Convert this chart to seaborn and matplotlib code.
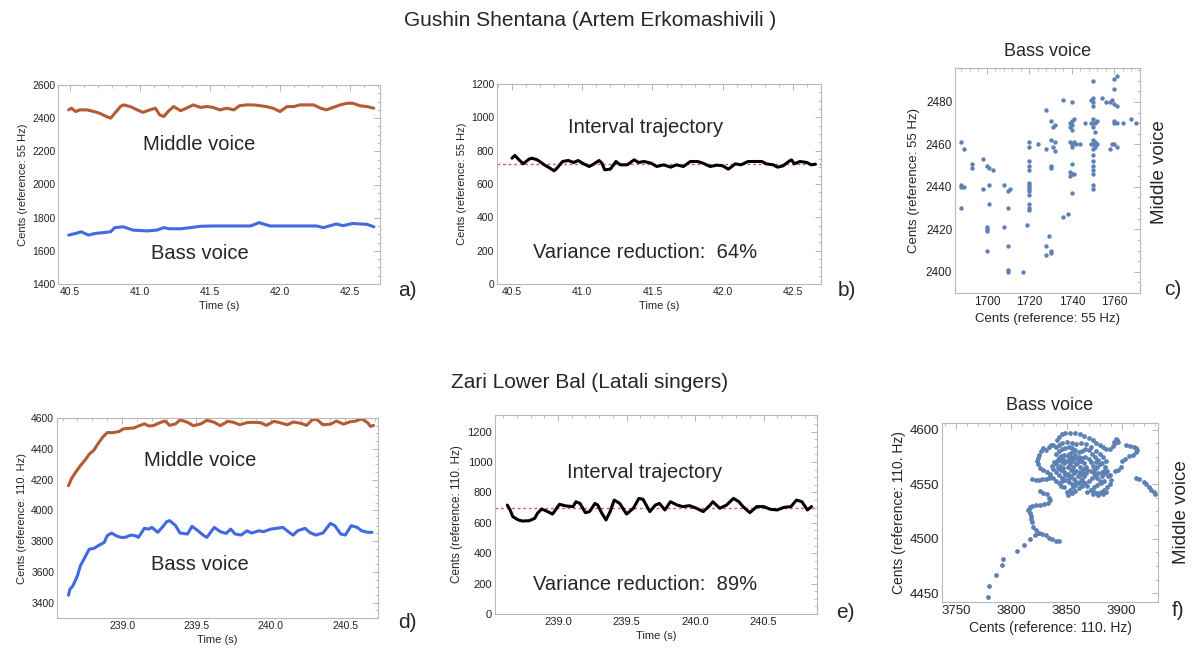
import matplotlib
matplotlib.use("Agg")
import matplotlib.pyplot as plt
import seaborn as sns
from matplotlib.ticker import AutoMinorLocator, FormatStrFormatter, MultipleLocator

# ---- panel a: Gushin Shentana, voices over time ----
time_a_mid = [40.49, 40.51, 40.54, 40.57, 40.62, 40.67, 40.71, 40.76, 40.79, 40.82,
              40.86, 40.88, 40.93, 40.98, 41.02, 41.07, 41.11, 41.14, 41.17, 41.20,
              41.24, 41.29, 41.33, 41.38, 41.43, 41.48, 41.52, 41.57, 41.62, 41.67,
              41.71, 41.76, 41.81, 41.86, 41.90, 41.95, 42.00, 42.05, 42.10, 42.14,
              42.19, 42.24, 42.29, 42.33, 42.38, 42.43, 42.48, 42.52, 42.57, 42.62, 42.67]
middle_a = [2450, 2460, 2440, 2450, 2450, 2440, 2430, 2410, 2400, 2430,
            2470, 2480, 2470, 2450, 2435, 2450, 2460, 2420, 2410, 2440,
            2470, 2445, 2460, 2480, 2465, 2470, 2465, 2450, 2460, 2450,
            2475, 2480, 2480, 2475, 2470, 2460, 2440, 2470, 2470, 2480,
            2480, 2480, 2460, 2450, 2465, 2480, 2490, 2490, 2475, 2470, 2460]
time_a_bass = [40.49, 40.54, 40.58, 40.63, 40.68, 40.74, 40.79, 40.82, 40.88, 40.95,
               41.05, 41.12, 41.17, 41.21, 41.29, 41.36, 41.43, 41.52, 41.67, 41.79,
               41.85, 41.88, 41.93, 42.02, 42.14, 42.26, 42.31, 42.36, 42.40, 42.45,
               42.52, 42.57, 42.62, 42.67]
bass_a = [1695, 1705, 1715, 1695, 1705, 1710, 1715, 1740, 1745, 1725,
          1720, 1725, 1740, 1733, 1733, 1740, 1748, 1750, 1750, 1750,
          1770, 1762, 1750, 1750, 1750, 1750, 1740, 1752, 1762, 1752,
          1765, 1762, 1760, 1745]

# ---- panel b: interval trajectory ----
time_b = [40.50, 40.52, 40.55, 40.58, 40.62, 40.64, 40.68, 40.73, 40.77, 40.80,
          40.82, 40.86, 40.90, 40.94, 40.97, 41.01, 41.05, 41.08, 41.12, 41.14,
          41.16, 41.20, 41.24, 41.27, 41.32, 41.37, 41.40, 41.44, 41.49, 41.53,
          41.58, 41.63, 41.67, 41.72, 41.77, 41.82, 41.86, 41.91, 41.96, 42.00,
          42.04, 42.09, 42.13, 42.18, 42.23, 42.28, 42.31, 42.36, 42.39, 42.43,
          42.47, 42.49, 42.51, 42.55, 42.60, 42.63, 42.66]
interval_b = [755, 771, 745, 721, 749, 755, 745, 715, 695, 679,
              695, 735, 741, 729, 741, 721, 705, 719, 741, 725,
              685, 689, 735, 715, 715, 745, 729, 735, 725, 705,
              715, 701, 715, 705, 735, 735, 725, 705, 713, 709,
              689, 721, 715, 735, 735, 735, 721, 715, 701, 709,
              735, 745, 721, 735, 729, 715, 719]
mean_b = 720

# ---- panel c: bass vs middle scatter ----
bass_c = [1688, 1688, 1688, 1688, 1689, 1689, 1693, 1693, 1698, 1698,
          1700, 1700, 1700, 1700, 1700, 1701, 1701, 1701, 1703, 1708,
          1708, 1710, 1710, 1710, 1710, 1710, 1711, 1717, 1719,
          1720, 1720, 1720, 1720, 1720, 1720, 1720, 1720, 1720, 1720, 1720, 1720, 1720, 1720,
          1724, 1728, 1728, 1728, 1728, 1729,
          1730, 1730, 1730, 1730, 1730, 1730, 1731, 1731, 1732, 1732, 1732,
          1736, 1736, 1738, 1739, 1739, 1739, 1739, 1739,
          1740, 1740, 1740, 1740, 1740, 1740, 1740, 1740, 1740,
          1741, 1741, 1741, 1742, 1744, 1746, 1749, 1749, 1749,
          1750, 1750, 1750, 1750, 1750, 1750, 1750, 1750, 1750, 1750, 1750, 1750, 1750, 1750, 1750, 1750, 1750,
          1751, 1751, 1751, 1751, 1752, 1752, 1754, 1756, 1758, 1758, 1759, 1759,
          1760, 1760, 1760, 1760, 1760, 1760, 1761, 1761, 1761, 1761, 1764, 1768, 1770]
middle_c = [2461, 2440, 2441, 2430, 2458, 2440, 2451, 2449, 2453, 2439,
            2450, 2420, 2421, 2419, 2410, 2449, 2441, 2432, 2448, 2441,
            2421, 2438, 2430, 2412, 2401, 2400, 2439, 2400, 2422,
            2461, 2459, 2452, 2450, 2448, 2442, 2441, 2440, 2439, 2438, 2436, 2432, 2430, 2429,
            2460, 2476, 2458, 2412, 2408, 2417,
            2471, 2462, 2450, 2449, 2410, 2409, 2468, 2459, 2469, 2461, 2457,
            2481, 2426, 2427, 2470, 2468, 2461, 2447, 2445,
            2480, 2471, 2469, 2467, 2460, 2459, 2451, 2437, 2446,
            2472, 2461, 2446, 2460, 2460, 2470, 2481, 2470, 2460,
            2490, 2482, 2480, 2478, 2472, 2470, 2468, 2462, 2460, 2458, 2455, 2452, 2450, 2448, 2446, 2441, 2439,
            2470, 2466, 2461, 2459, 2460, 2471, 2482, 2480, 2480, 2458, 2481, 2460,
            2491, 2486, 2479, 2471, 2470, 2460, 2492, 2478, 2470, 2459, 2470, 2472, 2470]

# ---- panel d: Zari Lower Bal, voices over time ----
time_d_mid = [238.64, 238.66, 238.69, 238.72, 238.75, 238.78, 238.81, 238.84, 238.87, 238.90,
              238.94, 238.98, 239.01, 239.04, 239.08, 239.11, 239.15, 239.18, 239.21, 239.26,
              239.29, 239.32, 239.36, 239.39, 239.44, 239.48, 239.53, 239.57, 239.62, 239.66,
              239.71, 239.75, 239.79, 239.84, 239.88, 239.93, 239.97, 240.02, 240.06, 240.11,
              240.15, 240.20, 240.24, 240.28, 240.31, 240.35, 240.40, 240.44, 240.49, 240.53,
              240.57, 240.61, 240.65, 240.67, 240.69]
middle_d = [4160, 4205, 4250, 4290, 4325, 4365, 4390, 4435, 4475, 4505,
            4505, 4512, 4530, 4532, 4535, 4548, 4562, 4548, 4550, 4572,
            4580, 4552, 4562, 4588, 4572, 4550, 4562, 4585, 4572, 4550,
            4578, 4572, 4556, 4570, 4572, 4570, 4552, 4578, 4570, 4556,
            4574, 4566, 4552, 4590, 4590, 4556, 4560, 4580, 4560, 4575,
            4580, 4595, 4570, 4545, 4552]
time_d_bass = [238.64, 238.65, 238.67, 238.70, 238.72, 238.75, 238.78, 238.81, 238.84, 238.88,
               238.90, 238.93, 238.96, 238.99, 239.02, 239.06, 239.09, 239.11, 239.15, 239.18,
               239.20, 239.24, 239.27, 239.30, 239.32, 239.36, 239.39, 239.44, 239.47, 239.51,
               239.55, 239.57, 239.62, 239.66, 239.70, 239.73, 239.76, 239.80, 239.84, 239.87,
               239.92, 239.95, 240.00, 240.04, 240.08, 240.13, 240.15, 240.18, 240.23, 240.26,
               240.30, 240.35, 240.40, 240.43, 240.47, 240.50, 240.54, 240.58, 240.61, 240.65, 240.68]
bass_d = [3448, 3487, 3509, 3574, 3639, 3694, 3748, 3752, 3770, 3791,
          3835, 3852, 3835, 3824, 3824, 3839, 3835, 3824, 3883, 3878,
          3889, 3857, 3889, 3926, 3933, 3900, 3852, 3846, 3896, 3867,
          3835, 3824, 3889, 3861, 3850, 3878, 3846, 3839, 3867, 3852,
          3867, 3861, 3878, 3883, 3889, 3852, 3839, 3867, 3883, 3857,
          3839, 3852, 3915, 3900, 3846, 3839, 3900, 3889, 3867, 3857, 3857]

# ---- panel e: interval trajectory ----
time_e = [238.63, 238.65, 238.67, 238.71, 238.74, 238.79, 238.83, 238.85, 238.88, 238.91,
          238.96, 238.99, 239.01, 239.06, 239.11, 239.13, 239.16, 239.20, 239.23, 239.27,
          239.29, 239.32, 239.35, 239.38, 239.41, 239.45, 239.50, 239.55, 239.59, 239.62,
          239.67, 239.71, 239.74, 239.78, 239.82, 239.87, 239.91, 239.96, 240.01, 240.06,
          240.11, 240.13, 240.18, 240.23, 240.28, 240.32, 240.35, 240.40, 240.45, 240.50,
          240.55, 240.60, 240.65, 240.70, 240.74, 240.78, 240.82, 240.85]
interval_e = [717, 685, 641, 619, 612, 614, 630, 663, 691, 680,
              658, 696, 722, 711, 707, 739, 728, 667, 674, 728,
              717, 663, 619, 674, 750, 728, 658, 696, 761, 755,
              674, 717, 728, 685, 739, 717, 707, 713, 696, 674,
              717, 739, 696, 717, 761, 739, 707, 667, 707, 707,
              689, 685, 702, 707, 750, 739, 685, 707]
mean_e = 700

# ---- panel f: bass vs middle scatter ----
bass_f = [3838, 3841, 3843, 3846, 3849, 3853, 3858, 3862, 3866, 3870, 3874, 3877, 3880, 3883, 3886, 3889,
          3892, 3894, 3895, 3896, 3897, 3895, 3893,
          3904, 3908, 3911, 3913, 3914, 3913, 3910, 3907, 3903, 3900, 3899, 3897, 3894,
          3913, 3916, 3920, 3922, 3925, 3927, 3929, 3930,
          3829, 3827, 3825, 3824, 3823, 3824, 3826, 3829, 3832, 3835, 3831, 3834, 3836,
          3819, 3822, 3825, 3828, 3831, 3834,
          3826, 3829, 3832, 3834, 3835, 3833, 3830, 3826, 3822, 3819, 3817, 3816, 3815, 3817, 3818, 3818,
          3819, 3820, 3822, 3824,
          3779, 3780, 3786, 3791, 3792, 3805, 3811, 3817, 3821, 3825, 3828, 3831, 3834, 3837, 3840, 3843,
          3840, 3843, 3846, 3849, 3852, 3855, 3858, 3861, 3864, 3867, 3870, 3873, 3876, 3879, 3882, 3885,
          3887, 3889, 3890, 3889, 3887, 3884, 3881, 3878, 3875, 3872, 3869, 3866, 3863, 3860, 3857, 3854,
          3851, 3848, 3845, 3842, 3839, 3837, 3838, 3840, 3843, 3846, 3849, 3852, 3855, 3858, 3861, 3864,
          3866, 3868, 3869, 3868, 3866, 3863, 3860, 3857, 3854, 3851, 3848, 3845, 3843, 3841, 3840, 3842,
          3845, 3848, 3851, 3854, 3857, 3859, 3856, 3853, 3850, 3851, 3855, 3858, 3861, 3864, 3867, 3870,
          3873, 3876, 3879, 3882, 3885, 3888, 3884, 3881, 3878, 3875, 3872, 3869, 3874, 3879, 3883, 3886,
          3856, 3859, 3862, 3865, 3862, 3859, 3856, 3853, 3850, 3847, 3852, 3855, 3858, 3861, 3864, 3867,
          3870, 3872, 3874, 3876, 3878, 3880, 3877, 3853, 3856, 3860, 3847, 3844, 3849, 3852, 3846, 3843,
          3840, 3838, 3835, 3845, 3848, 3862, 3865, 3872, 3875, 3878, 3880, 3882, 3884, 3886, 3883, 3880,
          3877, 3872, 3868, 3863, 3859, 3855, 3850, 3846, 3843, 3840]
middle_f = [4586, 4590, 4593, 4596, 4597, 4597, 4597, 4596, 4594, 4592, 4590, 4588, 4586, 4584, 4582, 4582,
            4585, 4588, 4590, 4590, 4589, 4591, 4589,
            4586, 4585, 4584, 4583, 4581, 4579, 4577, 4576, 4573, 4571, 4566, 4563, 4562,
            4556, 4555, 4552, 4550, 4547, 4545, 4543, 4541,
            4583, 4580, 4577, 4574, 4571, 4568, 4565, 4563, 4561, 4559, 4581, 4584, 4586,
            4555, 4554, 4554, 4555, 4555, 4556,
            4544, 4542, 4541, 4537, 4535, 4533, 4532, 4531, 4531, 4530, 4529, 4527, 4526, 4524, 4521, 4518,
            4515, 4511, 4508, 4505,
            4447, 4457, 4467, 4476, 4481, 4489, 4494, 4500, 4503, 4505, 4504, 4503, 4501, 4500, 4498, 4498,
            4578, 4580, 4582, 4583, 4584, 4583, 4581, 4579, 4580, 4582, 4581, 4578, 4575, 4572, 4569, 4566,
            4562, 4558, 4554, 4550, 4547, 4545, 4543, 4542, 4543, 4545, 4548, 4551, 4554, 4557, 4560, 4563,
            4566, 4569, 4571, 4572, 4570, 4567, 4564, 4561, 4558, 4556, 4554, 4552, 4550, 4549, 4551, 4554,
            4557, 4560, 4563, 4566, 4569, 4571, 4573, 4574, 4575, 4576, 4577, 4576, 4574, 4571, 4568, 4565,
            4563, 4561, 4559, 4557, 4555, 4552, 4547, 4545, 4543, 4540, 4542, 4544, 4546, 4548, 4551, 4553,
            4556, 4558, 4560, 4561, 4560, 4557, 4553, 4551, 4549, 4547, 4545, 4543, 4541, 4540, 4541, 4543,
            4566, 4568, 4566, 4564, 4561, 4562, 4562, 4568, 4571, 4573, 4578, 4579, 4577, 4575, 4574, 4575,
            4573, 4570, 4567, 4564, 4566, 4568, 4570, 4572, 4571, 4570, 4565, 4567, 4558, 4556, 4553, 4551,
            4553, 4556, 4557, 4548, 4547, 4558, 4560, 4562, 4560, 4556, 4553, 4557, 4562, 4571, 4575, 4578,
            4580, 4584, 4587, 4588, 4587, 4588, 4589, 4588, 4586, 4584]

W, H = 1194, 651
MID_COLOR = "#b45a34"
BASS_COLOR = "#4169e1"
DOT_COLOR = "#5e81b5"

sns.set_style("white")
plt.rcParams["font.family"] = ["Liberation Sans", "DejaVu Sans"]

fig = plt.figure(figsize=(W / 100, H / 100), dpi=100)


def add_ax(x0, y0, x1, y1):
    return fig.add_axes([x0 / W, 1 - y1 / H, (x1 - x0) / W, (y1 - y0) / H])


def style(ax, tick_size):
    for s in ax.spines.values():
        s.set_color("#b8b8b8")
        s.set_linewidth(0.8)
    ax.tick_params(which="both", direction="in", top=True, right=True,
                   color="#a8a8a8", labelsize=tick_size, labelcolor="#222222", pad=2)
    ax.tick_params(which="major", length=4, width=0.6)
    ax.tick_params(which="minor", length=2, width=0.5)
    ax.xaxis.set_minor_locator(AutoMinorLocator(5))
    ax.yaxis.set_minor_locator(AutoMinorLocator(4))


# a)
ax = add_ax(58, 85, 380, 284)
sns.lineplot(x=time_a_mid, y=middle_a, ax=ax, color=MID_COLOR, linewidth=2.2, estimator=None, sort=False)
sns.lineplot(x=time_a_bass, y=bass_a, ax=ax, color=BASS_COLOR, linewidth=2.2, estimator=None, sort=False)
ax.set_xlim(40.414, 42.714)
ax.set_ylim(1400, 2600)
ax.xaxis.set_major_locator(MultipleLocator(0.5))
ax.xaxis.set_major_formatter(FormatStrFormatter("%.1f"))
ax.yaxis.set_major_locator(MultipleLocator(200))
style(ax, 7.5)
ax.set_xlabel("Time (s)", fontsize=8, labelpad=3)
ax.set_ylabel("Cents (reference: 55 Hz)", fontsize=8, labelpad=3)
ax.text(0.44, 0.70, "Middle voice", transform=ax.transAxes, ha="center", va="center", fontsize=14.5)
ax.text(0.44, 0.155, "Bass voice", transform=ax.transAxes, ha="center", va="center", fontsize=14.5)

# b)
ax = add_ax(497, 84, 821, 284)
ax.axhline(mean_b, color="#e05a5a", linewidth=1.0, linestyle=(0, (2, 2)))
sns.lineplot(x=time_b, y=interval_b, ax=ax, color="black", linewidth=2.2, estimator=None, sort=False)
ax.set_xlim(40.393, 42.70)
ax.set_ylim(0, 1200)
ax.xaxis.set_major_locator(MultipleLocator(0.5))
ax.xaxis.set_major_formatter(FormatStrFormatter("%.1f"))
ax.yaxis.set_major_locator(MultipleLocator(200))
style(ax, 7.5)
ax.set_xlabel("Time (s)", fontsize=8, labelpad=3)
ax.set_ylabel("Cents (reference: 55 Hz)", fontsize=8, labelpad=3)
ax.text(0.457, 0.78, "Interval trajectory", transform=ax.transAxes, ha="center", va="center", fontsize=14.5)
ax.text(0.457, 0.155, "Variance reduction:  64%", transform=ax.transAxes, ha="center", va="center", fontsize=14.5)

# c)
ax = add_ax(955, 68, 1140, 293)
sns.scatterplot(x=bass_c, y=middle_c, ax=ax, color=DOT_COLOR, s=10, linewidth=0)
ax.set_xlim(1685, 1772)
ax.set_ylim(2390, 2496)
ax.xaxis.set_major_locator(MultipleLocator(20))
ax.yaxis.set_major_locator(MultipleLocator(20))
style(ax, 8.5)
ax.set_xlabel("Cents (reference: 55 Hz)", fontsize=9.5, labelpad=4)
ax.set_ylabel("Cents (reference: 55 Hz)", fontsize=9.5, labelpad=4)
ax.set_title("Bass voice", fontsize=13, pad=9)

# d)
ax = add_ax(57, 418, 378, 618)
sns.lineplot(x=time_d_mid, y=middle_d, ax=ax, color=MID_COLOR, linewidth=2.2, estimator=None, sort=False)
sns.lineplot(x=time_d_bass, y=bass_d, ax=ax, color=BASS_COLOR, linewidth=2.2, estimator=None, sort=False)
ax.set_xlim(238.563, 240.72)
ax.set_ylim(3300, 4600)
ax.xaxis.set_major_locator(MultipleLocator(0.5))
ax.xaxis.set_major_formatter(FormatStrFormatter("%.1f"))
ax.yaxis.set_major_locator(MultipleLocator(200))
style(ax, 7.5)
ax.set_xlabel("Time (s)", fontsize=8, labelpad=3)
ax.set_ylabel("Cents (reference: 110. Hz)", fontsize=8, labelpad=3)
ax.text(0.445, 0.79, "Middle voice", transform=ax.transAxes, ha="center", va="center", fontsize=14.5)
ax.text(0.445, 0.265, "Bass voice", transform=ax.transAxes, ha="center", va="center", fontsize=14.5)

# e)
ax = add_ax(495, 415, 817, 614)
ax.axhline(mean_e, color="#e05a5a", linewidth=1.0, linestyle=(0, (2, 2)))
sns.lineplot(x=time_e, y=interval_e, ax=ax, color="black", linewidth=2.2, estimator=None, sort=False)
ax.set_xlim(238.54, 240.89)
ax.set_ylim(0, 1310)
ax.xaxis.set_major_locator(MultipleLocator(0.5))
ax.xaxis.set_major_formatter(FormatStrFormatter("%.1f"))
ax.yaxis.set_major_locator(MultipleLocator(200))
style(ax, 8)
ax.set_xlabel("Time (s)", fontsize=8, labelpad=3)
ax.set_ylabel("Cents (reference: 110. Hz)", fontsize=8.5, labelpad=3)
ax.text(0.466, 0.71, "Interval trajectory", transform=ax.transAxes, ha="center", va="center", fontsize=14.5)
ax.text(0.466, 0.146, "Variance reduction:  89%", transform=ax.transAxes, ha="center", va="center", fontsize=14.5)

# f)
ax = add_ax(942, 423, 1158, 602)
sns.scatterplot(x=bass_f, y=middle_f, ax=ax, color=DOT_COLOR, s=12, linewidth=0)
ax.set_xlim(3737, 3933)
ax.set_ylim(4442, 4606)
ax.xaxis.set_major_locator(MultipleLocator(50))
ax.yaxis.set_major_locator(MultipleLocator(50))
style(ax, 9.5)
ax.set_xlabel("Cents (reference: 110. Hz)", fontsize=10, labelpad=3)
ax.set_ylabel("Cents (reference: 110. Hz)", fontsize=10, labelpad=3)
ax.set_title("Bass voice", fontsize=13, pad=9)

# titles, side labels, panel letters
fig.text(590 / W, 1 - 20 / H, "Gushin Shentana (Artem Erkomashivili )", ha="center", va="center", fontsize=15)
fig.text(590 / W, 1 - 383 / H, "Zari Lower Bal (Latali singers)", ha="center", va="center", fontsize=15)
fig.text(1160 / W, 1 - 172 / H, "Middle voice", rotation=90, ha="center", va="center", fontsize=13.5)
fig.text(1182 / W, 1 - 512 / H, "Middle voice", rotation=90, ha="center", va="center", fontsize=13.5)
for lab, px, py in [("a)", 407, 291), ("b)", 847, 291), ("c)", 1173, 290),
                    ("d)", 407, 623), ("e)", 845, 613), ("f)", 1178, 610)]:
    fig.text(px / W, 1 - py / H, lab, ha="center", va="center", fontsize=15)

fig.savefig("out.png", dpi=100)
